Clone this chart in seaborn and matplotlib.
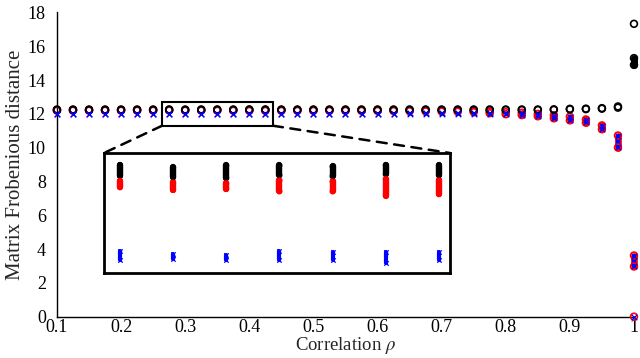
import matplotlib
matplotlib.use("Agg")
import matplotlib.pyplot as plt
import numpy as np
import pandas as pd
import seaborn as sns
from matplotlib.patches import Rectangle, ConnectionPatch

# ---------------------------------------------------------
# Data
# ---------------------------------------------------------
rho = [0.1, 0.125, 0.15, 0.175, 0.2, 0.225, 0.25, 0.275, 0.3, 0.325,
       0.35, 0.375, 0.4, 0.425, 0.45, 0.475, 0.5, 0.525, 0.55, 0.575,
       0.6, 0.625, 0.65, 0.675, 0.7, 0.725, 0.75, 0.775, 0.8, 0.825,
       0.85, 0.875, 0.9, 0.925, 0.95, 0.975, 1.0]

# black circles: top / bottom of each column of trials
black_hi = [12.26, 12.26, 12.26, 12.26, 12.26, 12.26, 12.26, 12.265, 12.258, 12.264,
            12.264, 12.261, 12.265, 12.264, 12.26, 12.26, 12.26, 12.26, 12.26, 12.26,
            12.26, 12.26, 12.26, 12.26, 12.26, 12.26, 12.26, 12.26, 12.26, 12.26,
            12.26, 12.27, 12.30, 12.31, 12.34, 12.44, 15.30]
black_lo = [12.23, 12.23, 12.23, 12.23, 12.23, 12.23, 12.23, 12.234, 12.229, 12.227,
            12.235, 12.232, 12.238, 12.235, 12.23, 12.23, 12.23, 12.23, 12.23, 12.23,
            12.23, 12.23, 12.23, 12.23, 12.23, 12.23, 12.23, 12.23, 12.23, 12.23,
            12.23, 12.24, 12.27, 12.28, 12.31, 12.37, 14.90]
black_out_x = [1.0]
black_out_y = [17.33]

# red circles
red_hi = [12.22, 12.22, 12.22, 12.22, 12.22, 12.22, 12.22, 12.219, 12.214, 12.212,
          12.220, 12.217, 12.224, 12.220, 12.22, 12.22, 12.22, 12.22, 12.22, 12.22,
          12.22, 12.22, 12.21, 12.21, 12.20, 12.19, 12.17, 12.13, 12.10, 12.07,
          12.00, 11.92, 11.84, 11.67, 11.32, 10.72, 3.62]
red_lo = [12.19, 12.19, 12.19, 12.19, 12.19, 12.19, 12.19, 12.200, 12.192, 12.195,
          12.188, 12.188, 12.176, 12.180, 12.18, 12.18, 12.18, 12.18, 12.18, 12.18,
          12.18, 12.17, 12.16, 12.15, 12.14, 12.13, 12.10, 12.04, 11.98, 11.93,
          11.86, 11.74, 11.62, 11.48, 11.09, 10.01, 2.97]
red_out_x = [1.0]
red_out_y = [0.0]

# blue crosses
blue_hi = [12.01, 12.01, 12.01, 12.01, 12.01, 12.01, 12.01, 12.014, 12.006, 12.003,
           12.014, 12.011, 12.011, 12.011, 12.01, 12.01, 12.01, 12.01, 12.01, 12.01,
           12.01, 12.01, 12.03, 12.05, 12.08, 12.07, 12.06, 12.06, 12.06, 12.04,
           11.98, 11.90, 11.80, 11.64, 11.30, 10.68, 3.58]
blue_lo = [11.99, 11.99, 11.99, 11.99, 11.99, 11.99, 11.99, 11.988, 11.991, 11.987,
           11.988, 11.988, 11.979, 11.988, 11.99, 11.99, 11.99, 11.99, 11.99, 11.99,
           11.99, 11.99, 11.99, 12.00, 12.02, 12.02, 12.01, 12.00, 11.98, 11.95,
           11.88, 11.76, 11.64, 11.50, 11.11, 10.05, 3.00]
blue_out_x = [1.0]
blue_out_y = [0.0]

x_ticks = [0.1, 0.2, 0.3, 0.4, 0.5, 0.6, 0.7, 0.8, 0.9, 1.0]
x_ticklabels = ["0.1", "0.2", "0.3", "0.4", "0.5", "0.6", "0.7", "0.8", "0.9", "1"]
y_ticks = [0, 2, 4, 6, 8, 10, 12, 14, 16, 18]

# zoomed window shown in the inset
zoom_x = (0.2675, 0.4302)
zoom_y = (11.95, 12.30)
# box drawn on the main axes around that window
box_x = (0.264, 0.437)
box_y = (11.30, 12.72)


# ---------------------------------------------------------
# Helpers
# ---------------------------------------------------------
def build_frame():
    rows = []
    for name, lo, hi, ox, oy in (("black", black_lo, black_hi, black_out_x, black_out_y),
                                 ("red", red_lo, red_hi, red_out_x, red_out_y),
                                 ("blue", blue_lo, blue_hi, blue_out_x, blue_out_y)):
        for x, a, b in zip(rho, lo, hi):
            rows.append({"series": name, "rho": x, "dist": a})
            rows.append({"series": name, "rho": x, "dist": b})
        for x, y in zip(ox, oy):
            rows.append({"series": name, "rho": x, "dist": y})
    return pd.DataFrame(rows)


STYLE = {
    "black": dict(color="black", marker="o", lo=black_lo, hi=black_hi),
    "red": dict(color="red", marker="o", lo=red_lo, hi=red_hi),
    "blue": dict(color="blue", marker="x", lo=blue_lo, hi=blue_hi),
}


def draw(ax, df, s_circle, s_cross, fill_lw, min_spread, clip, order):
    for name in order:
        st = STYLE[name]
        # dense columns of trials look like solid stripes
        spread = np.array(st["hi"]) - np.array(st["lo"])
        keep = spread > min_spread
        if keep.any():
            ax.vlines(np.array(rho)[keep], np.array(st["lo"])[keep], np.array(st["hi"])[keep],
                      colors=st["color"], linewidth=fill_lw[name], capstyle="round",
                      clip_on=clip, zorder=2)
        sub = df[df["series"] == name]
        if st["marker"] == "o":
            sns.scatterplot(data=sub, x="rho", y="dist", ax=ax, marker="o", s=s_circle,
                            facecolor="none", edgecolor=st["color"], linewidth=1.2,
                            clip_on=clip, zorder=3, legend=False)
        else:
            sns.scatterplot(data=sub, x="rho", y="dist", ax=ax, marker="x", s=s_cross,
                            color=st["color"], edgecolor=st["color"], linewidth=0.9,
                            clip_on=clip, zorder=3, legend=False)


# ---------------------------------------------------------
# Plot
# ---------------------------------------------------------
sns.set_style("white")
plt.rcParams["font.family"] = ["Liberation Serif", "DejaVu Serif"]
plt.rcParams["mathtext.fontset"] = "stix"

df = build_frame()

fig = plt.figure(figsize=(6.4, 3.58), dpi=100)
ax = fig.add_axes([0.089, 0.1154, 0.9016, 0.8497])

draw(ax, df, s_circle=24, s_cross=16,
     fill_lw={"black": 5.0, "red": 4.8, "blue": 3.2}, min_spread=0.12, clip=False,
     order=["red", "black", "blue"])

ax.set_xlim(0.1, 1.0)
ax.set_ylim(0, 18)
ax.set_xticks(x_ticks)
ax.set_xticklabels(x_ticklabels)
ax.set_yticks(y_ticks)
ax.tick_params(direction="in", length=4, width=1, labelsize=13, colors="black")
ax.tick_params(axis="x", pad=2)
ax.tick_params(axis="y", pad=8)
sns.despine(ax=ax)
for side in ["left", "bottom"]:
    ax.spines[side].set_color("black")
    ax.spines[side].set_linewidth(1.0)
ax.set_xlabel(r"Correlation $\rho$", fontsize=13.5, labelpad=-1)
ax.set_ylabel("Matrix Frobenious distance", fontsize=15, labelpad=2)

# zoom box on the main axes
ax.add_patch(Rectangle((box_x[0], box_y[0]), box_x[1] - box_x[0], box_y[1] - box_y[0],
                       fill=False, edgecolor="black", linewidth=1.5, zorder=5))

# inset
axins = fig.add_axes([0.1625, 0.2374, 0.5406, 0.3352])
draw(axins, df, s_circle=10, s_cross=10,
     fill_lw={"black": 4.6, "red": 4.6, "blue": 3.0}, min_spread=0.0, clip=True,
     order=["black", "red", "blue"])
axins.set_xlim(*zoom_x)
axins.set_ylim(*zoom_y)
axins.set_xticks([])
axins.set_yticks([])
axins.set_xlabel("")
axins.set_ylabel("")
for side in axins.spines.values():
    side.set_visible(True)
    side.set_color("black")
    side.set_linewidth(2.0)

for xa, xb in ((box_x[0], 0.0), (box_x[1], 1.0)):
    con = ConnectionPatch(xyA=(xa, box_y[0]), coordsA=ax.transData,
                          xyB=(xb, 1.0), coordsB=axins.transAxes,
                          linestyle=(0, (4, 3)), linewidth=1.8, color="black")
    fig.add_artist(con)

fig.savefig("out.png", dpi=100)
plt.close(fig)
